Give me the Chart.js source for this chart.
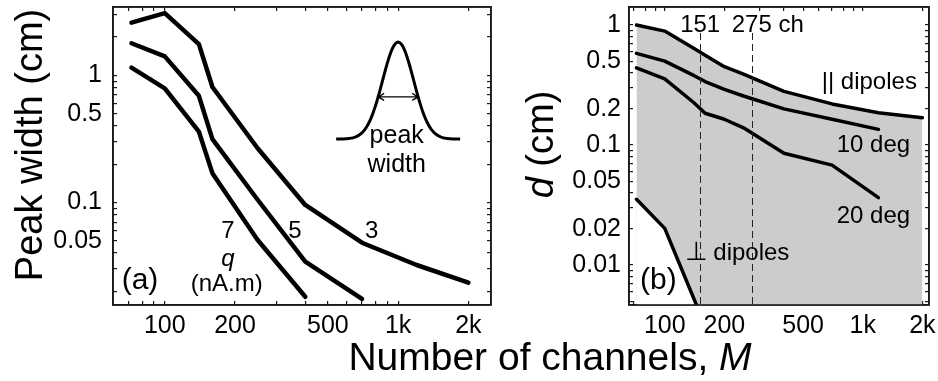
<!DOCTYPE html>
<html>
<head>
<meta charset="utf-8">
<script src="https://cdn.jsdelivr.net/npm/chart.js@4"></script>
<style>
  body { margin: 0; background: #fff; width: 938px; height: 381px; overflow: hidden; position: relative; font-family: "Liberation Sans", Arial, sans-serif; }
  #canvasA { position: absolute; left: 0; top: 0; }
  #canvasB { position: absolute; left: 500px; top: 0; }
  #titleX { position: absolute; left: 550px; top: 337px; transform: translateX(-50%); font-size: 39px; line-height: 39px; white-space: nowrap; color: #000; }
</style>
</head>
<body>
<canvas id="canvasA" width="500" height="381"></canvas>
<canvas id="canvasB" width="438" height="381"></canvas>
<div id="titleX">Number of channels, <i>M</i></div>
<script>
const FONT = '"Liberation Sans", Arial, sans-serif';
const AXIS = "#1a1a1a";

// panel (a): peak width per dipole strength q (nA.m)
const channelsA = [72, 100, 140, 160, 250, 400, 700, 1200, 2000];
const widthQ3 = [2.60, 3.09, 1.76, 0.81, 0.267, 0.0955, 0.0482, 0.0322, 0.0234];
const widthQ5 = [1.79, 1.41, 0.69, 0.315, 0.105, 0.0342, 0.0174];
const widthQ7 = [1.15, 0.79, 0.361, 0.170, 0.0507, 0.0181];

// panel (b): d (cm)
const channelsB = [72, 100, 140, 160, 200, 250, 400, 700, 1200, 2000];
const dParallel = [1.0, 0.89, 0.64, 0.56, 0.449, 0.39, 0.28, 0.22, 0.186, 0.169];
const d10deg = [0.58, 0.50, 0.38, 0.338, 0.291, 0.256, 0.20, 0.164, 0.135];
const d20deg = [0.44, 0.355, 0.226, 0.184, 0.164, 0.139, 0.0853, 0.068, 0.0364];
const channelsPerp = [72, 100, 145];
const dPerp = [0.0353, 0.0202, 0.0046];
const markerChannels = [151, 275];

const xTicks = [100, 200, 500, 1000, 2000];
const xTickLabels = ["100", "200", "500", "1k", "2k"];
const yTicksA = [0.05, 0.1, 0.5, 1];
const yTicksB = [0.01, 0.02, 0.05, 0.1, 0.2, 0.5, 1];

function curve(xs, ys, width, extra) {
  return Object.assign({
    data: ys.map((y, i) => ({ x: xs[i], y: y })),
    borderColor: "#000",
    borderWidth: width,
    borderCapStyle: "round",
    borderJoinStyle: "round",
    pointRadius: 0,
    tension: 0,
    fill: false
  }, extra || {});
}

function logMarks(min, max) {
  const out = [];
  for (let e = Math.floor(Math.log10(min)); e <= Math.ceil(Math.log10(max)); e++) {
    for (let m = 1; m <= 9; m++) {
      const v = +(m * Math.pow(10, e)).toPrecision(6);
      if (v >= min && v <= max) out.push(v);
    }
  }
  return out;
}

// inward tick marks and a full border come from the library's own axes
const tickGrid = { display: true, drawOnChartArea: false, drawTicks: true, tickLength: -4, color: AXIS, lineWidth: 1.2 };
const edge = { display: true, color: AXIS, width: 1.6 };

function xScale(min, max, position) {
  const main = position === "bottom";
  return {
    type: "logarithmic", min: min, max: max, position: position,
    afterBuildTicks: s => { s.ticks = logMarks(min, max).map(v => ({ value: v })); },
    afterFit: s => { s.height = main ? 76 : 0; s.paddingLeft = 0; s.paddingRight = 0; },
    grid: tickGrid,
    border: edge,
    ticks: {
      display: main, autoSkip: false, maxRotation: 0, padding: 10, color: "#000",
      font: { family: FONT, size: 25 },
      callback: v => { const i = xTicks.indexOf(v); return i >= 0 ? xTickLabels[i] : ""; }
    }
  };
}

function yScale(min, max, labels, width, pad, position) {
  const main = position === "left";
  return {
    type: "logarithmic", min: min, max: max, position: position,
    afterBuildTicks: s => { s.ticks = logMarks(min, max).map(v => ({ value: v })); },
    afterFit: s => { s.width = main ? width : 0; s.paddingTop = 0; s.paddingBottom = 0; },
    grid: tickGrid,
    border: edge,
    ticks: {
      display: main, autoSkip: false, padding: pad + 4, color: "#000",
      font: { family: FONT, size: 25 },
      callback: v => labels.indexOf(v) >= 0 ? String(v) : ""
    }
  };
}

// free text: [text, x, y, size, italic, align]
function drawTexts(ctx, items) {
  ctx.save();
  ctx.fillStyle = "#000";
  ctx.textBaseline = "alphabetic";
  items.forEach(t => {
    ctx.font = (t[4] ? "italic " : "") + t[3] + "px " + FONT;
    ctx.textAlign = t[5] || "center";
    ctx.fillText(t[0], t[1], t[2]);
  });
  ctx.restore();
}

// vertical axis title, pieces may be italic
function drawYTitle(ctx, x, y, parts) {
  ctx.save();
  ctx.fillStyle = "#000";
  ctx.translate(x, y);
  ctx.rotate(-Math.PI / 2);
  let total = 0;
  parts.forEach(p => { ctx.font = (p[1] ? "italic " : "") + "38px " + FONT; total += ctx.measureText(p[0]).width; });
  let cx = -total / 2;
  ctx.textAlign = "left";
  ctx.textBaseline = "alphabetic";
  parts.forEach(p => {
    ctx.font = (p[1] ? "italic " : "") + "38px " + FONT;
    ctx.fillText(p[0], cx, 0);
    cx += ctx.measureText(p[0]).width;
  });
  ctx.restore();
}

function strokeBox(chart) {
  const { ctx, chartArea: a } = chart;
  ctx.save();
  ctx.strokeStyle = AXIS;
  ctx.lineWidth = 1.6;
  ctx.strokeRect(a.left, a.top, a.right - a.left, a.bottom - a.top);
  ctx.restore();
}

const decorA = {
  id: "decorA",
  afterDatasetsDraw(chart) { strokeBox(chart); },
  afterDraw(chart) {
    const ctx = chart.ctx;
    drawTexts(ctx, [
      ["7", 228, 238.3, 24], ["5", 295, 238.3, 24], ["3", 371.7, 238.3, 24],
      ["q", 228, 265.5, 24, true], ["(nA.m)", 226.7, 291, 24],
      ["(a)", 140, 288.7, 30],
      ["peak", 396.7, 142.7, 25], ["width", 396.7, 171.7, 25]
    ]);
    drawYTitle(ctx, 42, 145, [["Peak width (cm)", false]]);

    // small peak sketch
    const cx = chart.scales.x.getPixelForValue(1000);
    const base = chart.scales.y.getPixelForValue(0.315);
    const h = 97, sig = 15.5, half = 62;
    ctx.save();
    ctx.strokeStyle = "#000";
    ctx.lineWidth = 3;
    ctx.beginPath();
    for (let dx = -half; dx <= half; dx += 1) {
      const py = base - h * Math.exp(-dx * dx / (2 * sig * sig));
      if (dx === -half) ctx.moveTo(cx + dx, py); else ctx.lineTo(cx + dx, py);
    }
    ctx.stroke();
    const ay = base - h * Math.exp(-20 * 20 / (2 * sig * sig));
    ctx.lineWidth = 1.3;
    ctx.beginPath();
    ctx.moveTo(cx - 20, ay); ctx.lineTo(cx + 20, ay);
    ctx.moveTo(cx - 14, ay - 3.5); ctx.lineTo(cx - 20, ay); ctx.lineTo(cx - 14, ay + 3.5);
    ctx.moveTo(cx + 14, ay - 3.5); ctx.lineTo(cx + 20, ay); ctx.lineTo(cx + 14, ay + 3.5);
    ctx.stroke();
    ctx.restore();
  }
};

const decorB = {
  id: "decorB",
  beforeDatasetsDraw(chart) {
    const ctx = chart.ctx;
    ctx.save();
    ctx.fillStyle = "#d8d8d8";
    ctx.fillRect(183, 237, 25, 31);
    ctx.restore();
  },
  afterDatasetsDraw(chart) {
    const { ctx, chartArea: a, scales } = chart;
    ctx.save();
    ctx.strokeStyle = "#222";
    ctx.lineWidth = 1;
    ctx.setLineDash([7, 4]);
    markerChannels.forEach(m => {
      const px = Math.round(scales.x.getPixelForValue(m)) + 0.5;
      ctx.beginPath();
      ctx.moveTo(px, a.top + 26);
      ctx.lineTo(px, a.bottom);
      ctx.stroke();
    });
    ctx.setLineDash([]);
    ctx.fillStyle = "#000";
    ctx.font = "24px " + FONT;
    ctx.textBaseline = "alphabetic";
    const p0 = scales.x.getPixelForValue(markerChannels[0]);
    const p1 = scales.x.getPixelForValue(markerChannels[1]);
    ctx.textAlign = "center";
    ctx.fillText(String(markerChannels[0]), p0, 31.7);
    ctx.textAlign = "left";
    const w = ctx.measureText(String(markerChannels[1])).width;
    ctx.fillText(markerChannels[1] + " ch", p1 - w / 2, 31.7);
    ctx.restore();
    strokeBox(chart);
  },
  afterDraw(chart) {
    const ctx = chart.ctx;
    drawTexts(ctx, [
      ["|| dipoles", 321.7, 89, 24, false, "left"],
      ["10 deg", 336.7, 151.7, 24, false, "left"],
      ["20 deg", 336.7, 223.3, 24, false, "left"],
      ["\u22A5", 196, 260, 26, false, "center"],
      ["dipoles", 213.3, 260, 24, false, "left"],
      ["(b)", 158.3, 288.7, 30]
    ]);
    drawYTitle(ctx, 52.5, 144.5, [["d", true], [" (cm)", false]]);
  }
};

const common = {
  responsive: false,
  animation: false,
  devicePixelRatio: 1,
  layout: { autoPadding: false, padding: { left: 0, top: 7, right: 9, bottom: 0 } }
};

new Chart(document.getElementById("canvasA"), {
  type: "line",
  data: {
    datasets: [
      curve(channelsA, widthQ3, 4.5),
      curve(channelsA, widthQ5, 4.5),
      curve(channelsA, widthQ7, 4.5)
    ]
  },
  options: Object.assign({}, common, {
    plugins: { legend: { display: false }, tooltip: { enabled: false } },
    scales: {
      x: xScale(60, 2500, "bottom"),
      xTop: xScale(60, 2500, "top"),
      y: yScale(0.0156, 3.45, yTicksA, 113, 11, "left"),
      yRight: yScale(0.0156, 3.45, yTicksA, 113, 11, "right")
    }
  }),
  plugins: [decorA]
});

new Chart(document.getElementById("canvasB"), {
  type: "line",
  data: {
    datasets: [
      curve(channelsB, dParallel, 3.5, { fill: "start", backgroundColor: "#cccccc", order: 3 }),
      curve(channelsB.slice(0, d10deg.length), d10deg, 3.5, { order: 2 }),
      curve(channelsB.slice(0, d20deg.length), d20deg, 3.5, { order: 1 }),
      curve(channelsPerp, dPerp, 3.5, { fill: "start", backgroundColor: "#ffffff", order: 0 })
    ]
  },
  options: Object.assign({}, common, {
    plugins: { legend: { display: false }, tooltip: { enabled: false } },
    scales: {
      x: xScale(66, 2161, "bottom"),
      xTop: xScale(66, 2161, "top"),
      y: yScale(0.00464, 1.413, yTicksB, 129, 8, "left"),
      yRight: yScale(0.00464, 1.413, yTicksB, 129, 8, "right")
    }
  }),
  plugins: [decorB]
});
</script>
</body>
</html>
